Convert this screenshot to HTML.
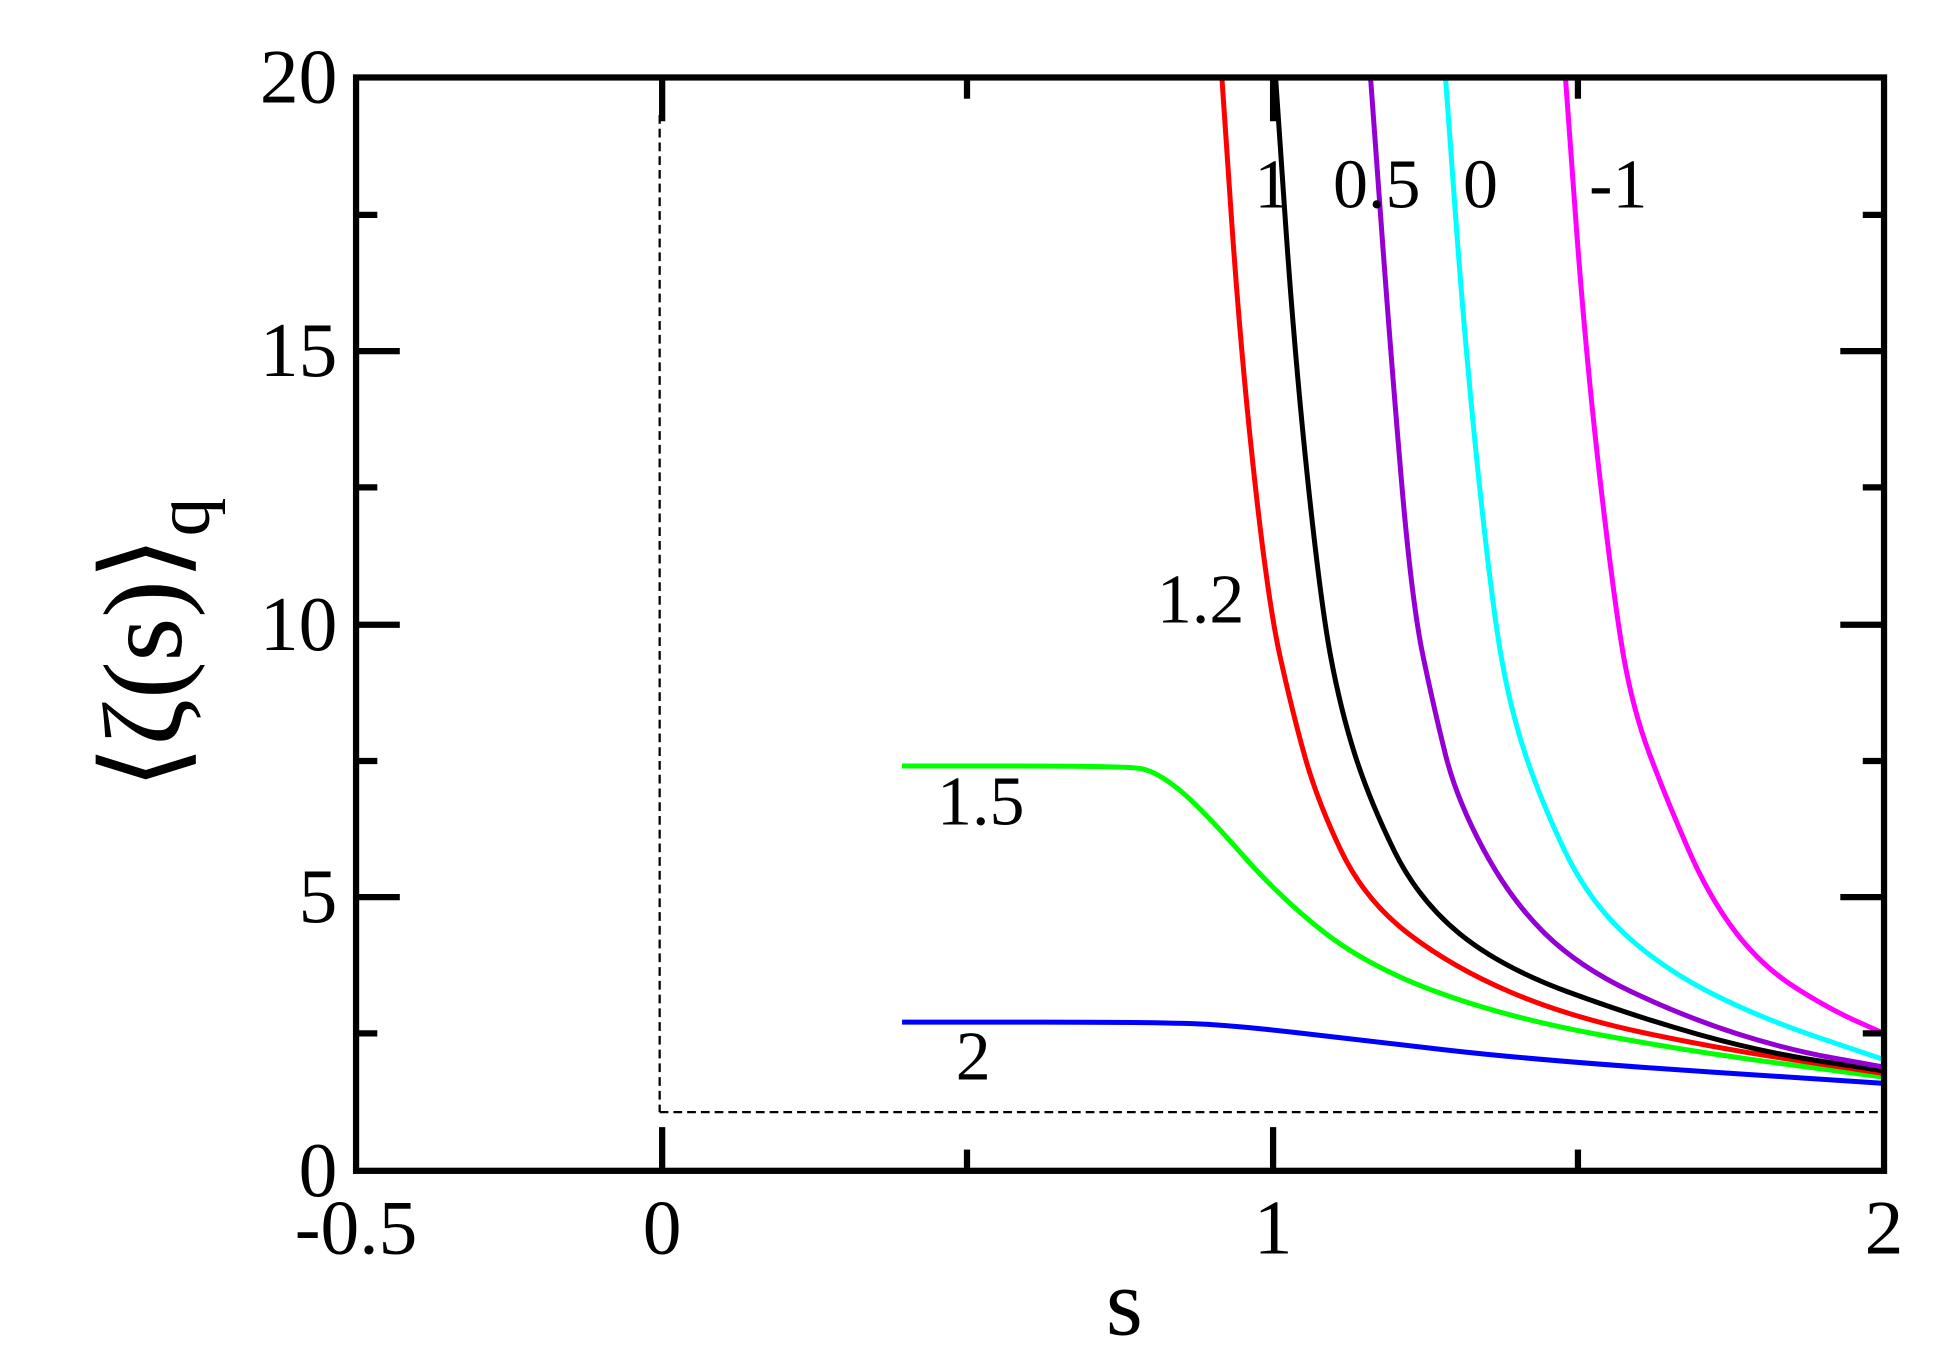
<!DOCTYPE html>
<html><head><style>html,body{margin:0;padding:0;background:#fff}svg{display:block}</style></head>
<body>
<svg width="1949" height="1367" viewBox="0 0 1560 1094" preserveAspectRatio="none" xmlns="http://www.w3.org/2000/svg" font-family="Liberation Serif, serif">
<g fill="none" stroke-width="4" stroke-linejoin="round">
<path stroke="#00ff00" d="M722,613 L811,613 Q900,613 912.5,615 Q925,617 942.5,631 Q960,645 993,682.5 Q1026,720 1061,747 Q1096,774 1150.5,794 Q1205,814 1277,827.5 Q1349,841 1428.5,851.5 L1508,862"/>
<path stroke="#0000ff" d="M722,818 L831,818 Q940,818 970,820 Q1000,822 1038.5,826.5 Q1077,831 1155,840 Q1233,849 1370.5,858 L1508,867"/>
<path stroke="#ff0000" d="M978,62 L985.5,172 Q993,282 1004,382 Q1015,482 1024.5,525 Q1034,568 1044,604 Q1054,640 1073,680 Q1092,720 1127,747 Q1162,774 1209,794 Q1256,814 1318,827 Q1380,840 1444,849.5 L1508,859"/>
<path stroke="#000000" d="M1021,62 L1028.5,172 Q1036,282 1046.5,382 Q1057,482 1065,525 Q1073,568 1084.5,604 Q1096,640 1115.5,680 Q1135,720 1168,747 Q1201,774 1255.5,794 Q1310,814 1360,828 Q1410,842 1459,849.5 L1508,857"/>
<path stroke="#9400d3" d="M1097,62 L1105,172 Q1113,282 1121.5,382 Q1130,482 1139,525 Q1148,568 1157,604 Q1166,640 1187.5,680 Q1209,720 1236.5,747 Q1264,774 1306.5,794 Q1349,814 1389.5,827 Q1430,840 1469,847 L1508,854"/>
<path stroke="#00ffff" d="M1157,62 L1165,172 Q1173,282 1183.5,382 Q1194,482 1201.5,525 Q1209,568 1221,604 Q1233,640 1252,680 Q1271,720 1300,747 Q1329,774 1368,794 Q1407,814 1457.5,831 L1508,848"/>
<path stroke="#ff00ff" d="M1253,62 L1261,172 Q1269,282 1280.5,382 Q1292,482 1299.5,525 Q1307,568 1320.5,604 Q1334,640 1351.5,680 Q1369,720 1390,747 Q1411,774 1438,791 Q1465,808 1486.5,817.5 L1508,827"/>
</g>
<g stroke="#000" stroke-width="1.8" stroke-dasharray="7,4" fill="none">
<line x1="528" y1="92" x2="528" y2="890"/>
<line x1="528" y1="890" x2="1508" y2="890"/>
</g>
<g stroke="#000" stroke-width="5">
<rect x="285" y="62" width="1223" height="875" fill="none"/>
<line x1="530" y1="937" x2="530" y2="902"/><line x1="1019" y1="937" x2="1019" y2="902"/>
<line x1="774" y1="937" x2="774" y2="920"/><line x1="1263" y1="937" x2="1263" y2="920"/>
<line x1="530" y1="62" x2="530" y2="97"/><line x1="1019" y1="62" x2="1019" y2="97"/>
<line x1="774" y1="62" x2="774" y2="79"/><line x1="1263" y1="62" x2="1263" y2="79"/>
<line x1="285" y1="718" x2="320" y2="718"/><line x1="285" y1="500" x2="320" y2="500"/><line x1="285" y1="281" x2="320" y2="281"/>
<line x1="285" y1="827" x2="302" y2="827"/><line x1="285" y1="609" x2="302" y2="609"/><line x1="285" y1="390" x2="302" y2="390"/><line x1="285" y1="172" x2="302" y2="172"/>
<line x1="1508" y1="718" x2="1473" y2="718"/><line x1="1508" y1="500" x2="1473" y2="500"/><line x1="1508" y1="281" x2="1473" y2="281"/>
<line x1="1508" y1="827" x2="1491" y2="827"/><line x1="1508" y1="609" x2="1491" y2="609"/><line x1="1508" y1="390" x2="1491" y2="390"/><line x1="1508" y1="172" x2="1491" y2="172"/>
</g>
<g font-size="62" fill="#000">
<g text-anchor="end">
<text x="270" y="82">20</text><text x="270" y="301">15</text><text x="270" y="520">10</text><text x="270" y="738">5</text><text x="270" y="957">0</text>
</g>
<g text-anchor="middle">
<text x="285" y="1003">-0.5</text><text x="530" y="1003">0</text><text x="1019" y="1003">1</text><text x="1508" y="1003">2</text>
<text x="900" y="1068" font-size="76">s</text>
</g>
<g font-size="56">
<text x="1004" y="166">1</text><text x="1067" y="166">0.5</text><text x="1171" y="166">0</text><text x="1272" y="166">-1</text>
<text x="926" y="498">1.2</text><text x="750" y="660">1.5</text><text x="765" y="864">2</text>
</g>
<text transform="translate(145,515) rotate(-90)" text-anchor="middle" font-size="90">⟨ζ(s)⟩<tspan font-size="62" dy="22">q</tspan></text>
</g>
</svg>
</body></html>
